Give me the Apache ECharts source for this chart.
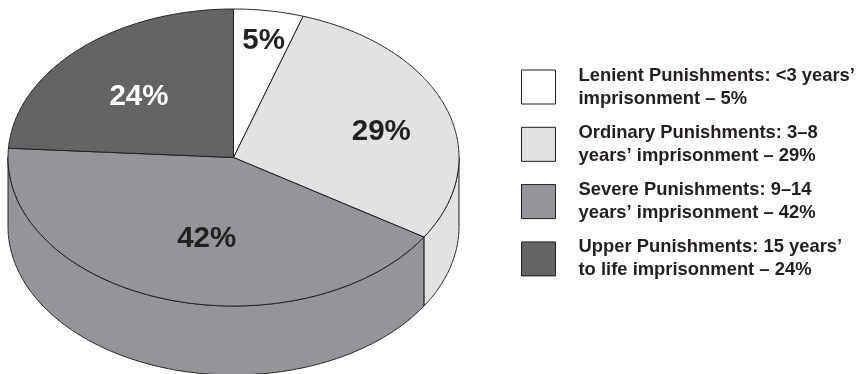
<!DOCTYPE html>
<html><head><meta charset="utf-8">
<style>html,body{margin:0;padding:0;background:#fff}#c{width:868px;height:374px}</style>
<script src="https://cdn.jsdelivr.net/npm/echarts@6/dist/echarts.min.js"></script>
</head><body><div id="c"></div>
<script>
const categories = ["Lenient Punishments: <3 years’\nimprisonment – 5%","Ordinary Punishments: 3–8\nyears’ imprisonment – 29%","Severe Punishments: 9–14\nyears’ imprisonment – 42%","Upper Punishments: 15 years’\nto life imprisonment – 24%"];
const values = [5,29,42,24];
const colors = ["#ffffff","#e1e2e4","#939598","#636466"];
const labelColors = ["#231f20","#231f20","#231f20","#ffffff"];
const labelRadius = [0.81,0.68,0.553,0.593];
const labelShift = [0.5,4.3,-5.6,-1.8];

const CX=233.5, CY=157.5, RX=225.5, RY=148.5, DEPTH=69, INK="#231f20";
const total = values.reduce((a,b)=>a+b,0);
const pt=(deg,dy)=>{const r=deg*Math.PI/180;return [CX+RX*Math.sin(r),CY-RY*Math.cos(r)+(dy||0)];};
const arc=(a,b,dy)=>{const out=[],n=Math.max(2,Math.ceil(Math.abs(b-a)*2));for(let i=0;i<=n;i++)out.push(pt(a+(b-a)*i/n,dy));return out;};

function renderSlice(idx){
  return function(params,api){
    const v=api.value(0);
    const start=values.slice(0,idx).reduce((a,b)=>a+b,0)/total*360;
    const end=start+v/total*360;
    const kids=[];
    const s=Math.max(start,90), e=Math.min(end,270);
    const style={fill:colors[idx],stroke:INK,lineWidth:1,lineJoin:'round'};
    if(e>s){
      kids.push({type:'polygon',shape:{points:arc(s,e,0).concat(arc(e,s,DEPTH))},style:style});
    }
    kids.push({type:'polygon',shape:{points:[[CX,CY]].concat(arc(start,end,0))},style:style});
    const m=(start+end)/2+labelShift[idx], r=m*Math.PI/180;
    kids.push({type:'text',style:{
      text:v+'%',x:CX+RX*labelRadius[idx]*Math.sin(r),y:CY-RY*labelRadius[idx]*Math.cos(r)+1.5,
      fill:labelColors[idx],font:'bold 29.5px "Liberation Sans"',align:'center',verticalAlign:'middle'}});
    return {type:'group',children:kids};
  };
}
const chart=echarts.init(document.getElementById('c'),null,{renderer:'canvas'});
chart.setOption({
  animation:false,
  legend:{
    orient:'vertical',left:521,top:63,padding:0,itemWidth:34,itemHeight:34,itemGap:9.3,
    icon:'rect',selectedMode:false,
    itemStyle:{borderColor:INK,borderWidth:1},
    data:categories,
    textStyle:{fontFamily:'"Liberation Sans"',fontWeight:'bold',fontSize:18.4,color:INK,lineHeight:23,padding:[2,0,0,18]}
  },
  series:categories.map((name,i)=>({
    type:'custom',name:name,coordinateSystem:'none',silent:true,
    itemStyle:{color:colors[i]},
    renderItem:renderSlice(i),data:[[values[i]]]
  }))
});
</script></body></html>
